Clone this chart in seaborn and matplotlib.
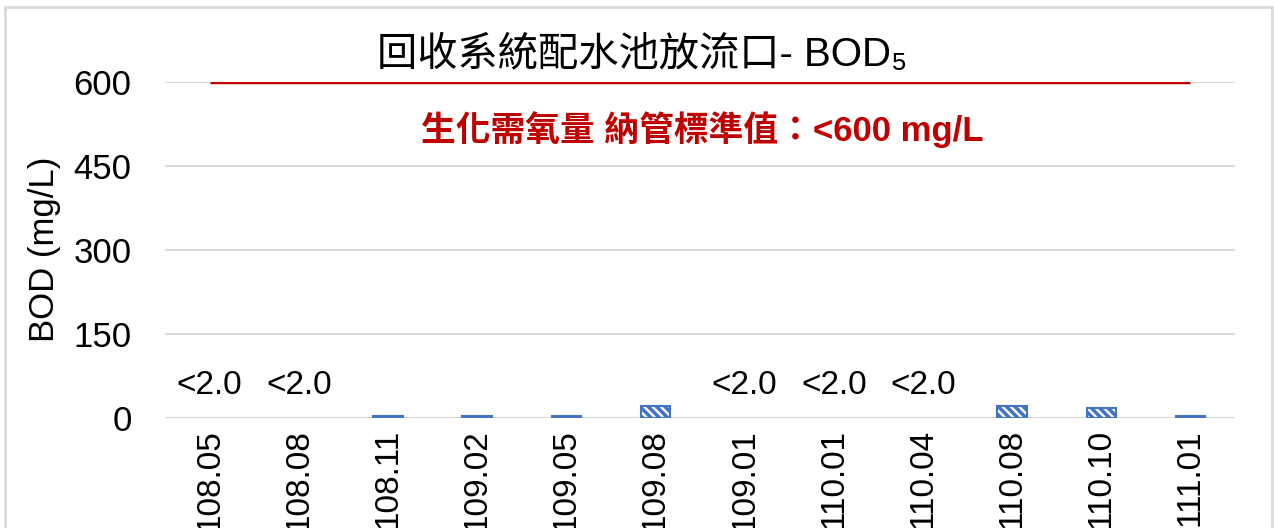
import numpy as np
import pandas as pd
import matplotlib
matplotlib.use("Agg")
import matplotlib.pyplot as plt
import seaborn as sns

# data
dates = ['108.05', '108.08', '108.11', '109.02', '109.05', '109.08',
         '109.01', '110.01', '110.04', '110.08', '110.10', '111.01']
bod = [np.nan, np.nan, 3, 3, 3, 22, np.nan, np.nan, np.nan, 21, 17, 3]
below_limit = ['<2.0', '<2.0', '', '', '', '', '<2.0', '<2.0', '<2.0', '', '', '']
limit = 600
y_ticks = [0, 150, 300, 450, 600]

sns.set_style("white")
plt.rcParams['font.family'] = ['Liberation Sans', 'Noto Sans CJK TC', 'DejaVu Sans']
plt.rcParams['text.color'] = 'black'
plt.rcParams['xtick.color'] = 'black'
plt.rcParams['ytick.color'] = 'black'
plt.rcParams['hatch.linewidth'] = 2.5
plt.rcParams['hatch.color'] = '#4472C4'

df = pd.DataFrame({'date': dates, 'bod': bod})

fig = plt.figure(figsize=(12.74, 5.28), dpi=100)
ax = fig.add_axes([165 / 1274, 1 - 418 / 528, 1070 / 1274, 336 / 528])

sns.barplot(data=df, x='date', y='bod', ax=ax, width=0.33, color='white',
            edgecolor='#4472C4', linewidth=1.5, hatch='\\\\\\\\', errorbar=None,
            zorder=3)

# limit line across the categories
ax.plot(range(len(dates)), [limit] * len(dates), color='#C00000', lw=2.5,
        solid_capstyle='butt', zorder=4)

# "<2.0" labels for non-detects
for i, lab in enumerate(below_limit):
    if lab:
        ax.annotate(lab, (i, 0), xytext=(0, 12), textcoords='offset points',
                    ha='center', va='bottom', fontsize=24, color='black')

ax.set_ylim(0, limit)
ax.set_yticks(y_ticks)
ax.set_xlim(-0.5, len(dates) - 0.5)
ax.grid(axis='y', color='#d9d9d9', lw=1.5, zorder=0)
ax.set_axisbelow(True)
for s in ax.spines.values():
    s.set_visible(False)
ax.tick_params(axis='both', length=0)
ax.tick_params(axis='y', pad=24, labelsize=25)
ax.tick_params(axis='x', pad=8, labelsize=24)
plt.setp(ax.get_xticklabels(), rotation=90)
ax.set_xlabel('')
ax.set_ylabel('')

fig.text(45 / 1274, 1 - 249 / 528, 'BOD (mg/L)', rotation=90, fontsize=25,
         ha='center', va='center')

fig.text(642 / 1274, 1 - 55 / 528, '回收系統配水池放流口- BOD₅', fontsize=29,
         ha='center', va='center')

ax.text(0.502, (418 - 130) / 336, '生化需氧量 納管標準值：<600 mg/L', transform=ax.transAxes,
        fontsize=25, fontweight='bold', color='#C00000', ha='center', va='center')

# chart border
fig.patches.append(plt.Rectangle((5 / 1274, -0.1), 1267 / 1274, 1 - 7 / 528 + 0.1,
                                 transform=fig.transFigure, fill=False,
                                 edgecolor='#d9d9d9', lw=2))

fig.savefig('out.png', dpi=100)
